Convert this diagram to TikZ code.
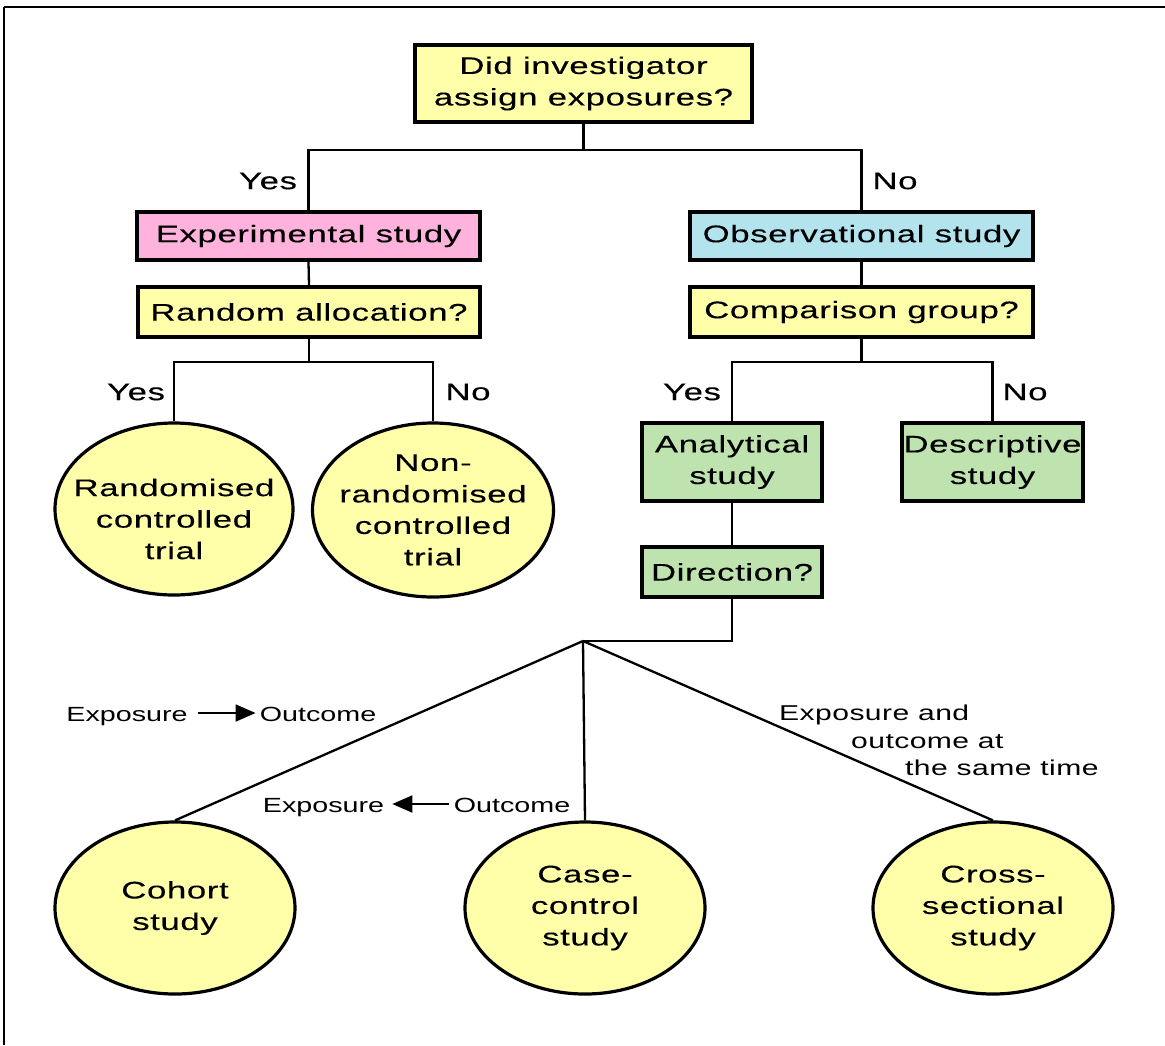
\documentclass[tikz,border=0pt]{standalone}
\usepackage{fontspec}
\setmainfont{Liberation Sans}[FakeStretch=1.4]
\newfontfamily\boxfont{Liberation Sans}[FakeStretch=1.45,LetterSpace=2.5,FakeBold=0.2]
\newfontfamily\smallfont{Liberation Sans}[FakeStretch=1.4,LetterSpace=2]
\usetikzlibrary{shapes.geometric,arrows.meta}
\definecolor{byellow}{HTML}{FFFFAA}
\definecolor{bpink}{HTML}{FFB3DC}
\definecolor{bblue}{HTML}{B3E4EE}
\definecolor{bgreen}{HTML}{BEE3AE}
\tikzset{
  box/.style={draw, line width=3.4pt, inner sep=0pt, align=center,
    font=\boxfont\fontsize{24}{31.5}\selectfont},
  ell/.style={draw, ellipse, line width=3.2pt, fill=byellow, inner sep=0pt},
  etext/.style={align=center, inner sep=0pt,
    font=\boxfont\fontsize{24}{31.5}\selectfont},
  conn/.style={line width=2.3pt},
  yn/.style={inner sep=0pt, font=\boxfont\fontsize{24}{28}\selectfont},
  small/.style={inner sep=0pt, font=\fontsize{20.5}{27.5}\selectfont},
  smallb/.style={inner sep=0pt, font=\smallfont\fontsize{21.5}{27.5}\selectfont},
  dirarrow/.style={line width=1.8pt, -{Triangle[length=20pt,width=17pt]}},
}
\begin{document}
\begin{tikzpicture}[x=1pt,y=-1pt]
\useasboundingbox (0,0) rectangle (1165,1045);
% frame
\draw[line width=2.2pt] (4,7) -- (1165,7);
\draw[line width=1.2pt] (4,7) -- (4,1045);

% boxes
\node[box, fill=byellow, minimum width=337pt, minimum height=77pt] (q1) at (583.5,83.5) {Did investigator\\assign exposures?};
\node[box, fill=bpink, minimum width=343pt, minimum height=48pt] (exp) at (308.5,236) {Experimental study};
\node[box, fill=byellow, minimum width=342pt, minimum height=50pt] (rand) at (309,312) {Random allocation?};
\node[box, fill=bblue, minimum width=343pt, minimum height=48pt] (obs) at (861.5,236) {Observational study};
\node[box, fill=byellow, minimum width=343pt, minimum height=50pt] (comp) at (861.5,312) {Comparison group?};
\node[box, fill=bgreen, minimum width=180pt, minimum height=78pt] (ana) at (732,462) {Analytical\\study};
\node[box, fill=bgreen, minimum width=181pt, minimum height=78pt] (desc) at (992.5,462) {Descriptive\\study};
\node[box, fill=bgreen, minimum width=180pt, minimum height=50pt] (dir) at (732,572) {Direction?};

% ellipses
\node[ell, minimum width=238pt, minimum height=172pt] (rct) at (174,509) {};
\node[etext, yshift=-10pt] at (rct) {Randomised\\controlled\\trial};
\node[ell, minimum width=241pt, minimum height=174pt] (nrct) at (433,510) {};
\node[etext] at (nrct) {Non-\\randomised\\controlled\\trial};
\node[ell, minimum width=240pt, minimum height=172pt] (coh) at (175,908) {};
\node[etext] at (coh) {Cohort\\study};
\node[ell, minimum width=240pt, minimum height=172pt] (cc) at (585,908) {};
\node[etext] at (cc) {Case-\\control\\study};
\node[ell, minimum width=240pt, minimum height=172pt] (cs) at (993,908) {};
\node[etext] at (cs) {Cross-\\sectional\\study};

% connectors
\coordinate (j1) at (583.5,150);
\draw[conn] (q1.south) -- (j1);
\draw[conn] (exp.north) |- (j1) -| (obs.north);
\draw[conn] (exp.south) -- (rand.north);
\coordinate (j2) at (309,362);
\draw[conn] (rand.south) -- (j2);
\draw[conn] (rct.north) |- (j2) -| (nrct.north);
\draw[conn] (obs.south) -- (comp.north);
\coordinate (j3) at (861.5,362);
\draw[conn] (comp.south) -- (j3);
\draw[conn] (ana.north) |- (j3) -| (desc.north);
\draw[conn] (ana.south) -- (dir.north);
\coordinate (apex) at (583,641);
\draw[conn] (dir.south) |- (apex);
\draw[conn] (apex) -- (coh.north);
\draw[conn] (apex) -- (cc.north);
\draw[conn] (apex) -- (cs.north);

% yes / no labels
\node[yn] (y1) at (268,181) {Yes};
\node[yn] (n1) at (895,181) {No};
\node[yn] (y2) at (136,392) {Yes};
\node[yn] (n2) at (468,392) {No};
\node[yn] (y3) at (692,392) {Yes};
\node[yn] (n3) at (1025,392) {No};

% direction labels
\node[small, anchor=base] (e1) at (127,721) {Exposure};
\node[small, anchor=base] (o1) at (318,721) {Outcome};
\draw[dirarrow] ([xshift=10pt,yshift=8pt]e1.base east) -- ([xshift=-4pt,yshift=8pt]o1.base west);
\node[small, anchor=base] (e2) at (323.5,812) {Exposure};
\node[small, anchor=base] (o2) at (512,812) {Outcome};
\draw[dirarrow] ([xshift=-5pt,yshift=8pt]o2.base west) -- ([xshift=8pt,yshift=8pt]e2.base east);
\node[smallb, anchor=north west, align=left] (same) at (779,705) {Exposure and\\\hspace*{72pt}outcome at\\\hspace*{126pt}the same time};
\end{tikzpicture}
\end{document}
